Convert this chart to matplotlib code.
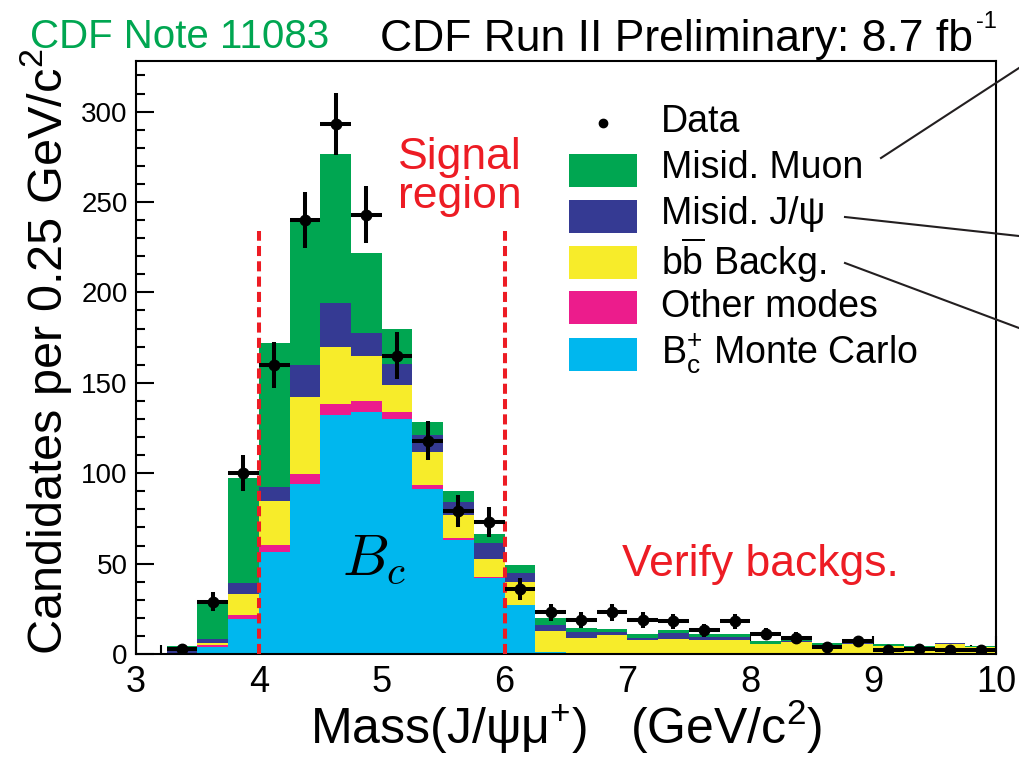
import numpy as np
import matplotlib.pyplot as plt
from matplotlib.lines import Line2D
from matplotlib.patches import Rectangle

plt.rcParams['font.family'] = ['Liberation Sans', 'DejaVu Sans']
plt.rcParams['mathtext.fontset'] = 'custom'
plt.rcParams['mathtext.rm'] = 'Liberation Sans'
plt.rcParams['mathtext.it'] = 'Liberation Sans:italic'
plt.rcParams['mathtext.bf'] = 'Liberation Sans:bold'

# bin centres of Mass(J/psi mu+) in GeV/c^2, 0.25 GeV/c^2 bins
mass = [3.375, 3.625, 3.875, 4.125, 4.375, 4.625, 4.875, 5.125, 5.375,
        5.625, 5.875, 6.125, 6.375, 6.625, 6.875, 7.125, 7.375, 7.625,
        7.875, 8.125, 8.375, 8.625, 8.875, 9.125, 9.375, 9.625, 9.875]
bin_width = 0.25

# observed candidates
data = [3, 29, 100, 160, 240, 293, 243, 165, 118, 79, 73, 36, 23, 19,
        23, 19, 18, 13, 18, 11, 9, 4, 7, 2, 3, 2, 2]

# stacked components, bottom to top
bc_mc = [0.5, 4.0, 19.6, 56.6, 94.0, 132.0, 134.0, 130.0, 91.3, 63.1, 42.0,
         27.0, 1.0, 0.5, 0.3, 0.2, 0.2, 0.1, 0.1, 0, 0, 0, 0, 0, 0, 0, 0]
other_modes = [0, 1.0, 2.0, 3.7, 5.6, 6.2, 6.2, 4.0, 2.2, 1.1, 0.5, 0.2,
               0, 0, 0, 0, 0, 0, 0, 0, 0, 0, 0, 0, 0, 0, 0]
bbbar = [0.3, 1.0, 11.4, 24.4, 42.8, 31.8, 24.8, 15.0, 18.5, 12.8, 9.9,
         12.8, 11.7, 8.2, 10.2, 7.5, 8.1, 7.6, 7.6, 5.3, 6.8, 4.8, 5.8,
         4.4, 3.7, 5.8, 3.7]
misid_jpsi = [2.4, 2.5, 6.0, 7.5, 17.6, 24.4, 12.5, 11.5, 9.2, 7.3, 9.2,
              4.7, 3.3, 3.6, 1.5, 1.3, 3.1, 1.8, 1.8, 0.3, 0.2, 0.2, 0.1,
              0.1, 0.1, 0.1, 0.1]
misid_muon = [1.4, 21.5, 58.5, 79.8, 79.6, 82.1, 44.2, 19.5, 7.0, 5.9, 4.6,
              4.3, 3.7, 2.3, 1.8, 1.9, 1.9, 1.3, 1.3, 1.4, 0.7, 0.9, 0.2,
              0.9, 0.8, 0.3, 0.7]

components = [bc_mc, other_modes, bbbar, misid_jpsi, misid_muon]
comp_colors = ['#00b7ee', '#ec1c8c', '#f7ec2a', '#353a93', '#00a651']
legend_labels = ['Misid. Muon', 'Misid. J/\u03c8',
                 r'b$\overline{\mathrm{b}}$ Backg.',
                 'Other modes', r'B$_\mathrm{c}^\mathrm{+}$ Monte Carlo']
legend_colors = ['#00a651', '#353a93', '#f7ec2a', '#ec1c8c', '#00b7ee']

red = '#ed1c24'
W, H = 1019, 757


def fpos(x, y):
    # pixel position -> figure fraction
    return x / W, 1 - y / H


fig = plt.figure(figsize=(W / 100, H / 100), dpi=100)
ax = fig.add_axes([136 / W, 1 - 654 / H, 860 / W, 593 / H])

# stacked histogram
bottom = np.zeros(len(mass))
for vals, col in zip(components, comp_colors):
    ax.bar(mass, vals, width=bin_width, bottom=bottom, color=col,
           linewidth=0, zorder=2)
    bottom += np.array(vals)

# signal region boundaries
ax.vlines([4, 6], 0, 234, colors=red, linestyles=(0, (2.5, 1.3)),
          linewidth=2.9, zorder=3)

# data points
ax.errorbar(mass, data, xerr=bin_width / 2, yerr=np.sqrt(data), fmt='o',
            color='black', ms=7.5, elinewidth=2.9, capsize=0, zorder=4)

ax.set_xlim(3, 10)
ax.set_ylim(0, 328)
ax.set_xticks([3, 4, 5, 6, 7, 8, 9, 10])
ax.set_xticks(np.arange(3, 10.01, 0.2), minor=True)
ax.set_yticks([0, 50, 100, 150, 200, 250, 300])
ax.set_yticks(np.arange(0, 321, 10), minor=True)
ax.tick_params(which='both', direction='in', top=False, right=False, width=1.5)
ax.tick_params(which='major', length=13)
ax.tick_params(which='minor', length=6.5)
ax.tick_params(axis='x', labelsize=26, pad=8)
ax.tick_params(axis='y', labelsize=20, pad=6)
for sp in ax.spines.values():
    sp.set_linewidth(1.5)

ax.set_xlabel('Mass(J/\u03c8\u03bc$^{+}$)   (GeV/c$^{2}$)', fontsize=36)
ax.xaxis.label.set_va('center')
ax.xaxis.set_label_coords(0.5, -0.123)
ax.set_ylabel('Candidates per 0.25 GeV/c$^{2}$', fontsize=35)
ax.yaxis.label.set_va('center')
ax.yaxis.set_label_coords(-0.105, 0.51)

# annotations inside the frame
ax.text(5.636, 264, 'Signal\nregion', color=red, fontsize=32, ha='center',
        va='center', linespacing=0.95)
ax.text(6.954, 49.3, 'Verify backgs.', color=red, fontsize=32, va='center')
ax.text(4.68, 43.7, '$B_c$', fontsize=42, math_fontfamily='cm', va='baseline')

# header
fig.text(*fpos(30, 37), 'CDF Note 11083', color='#00a651', fontsize=29,
         va='center')
fig.text(*fpos(380, 40), 'CDF Run II Preliminary: 8.7 fb', fontsize=32,
         va='center')
fig.text(*fpos(976, 22), '-1', fontsize=17, va='center')

# legend
fig.add_artist(Line2D([fpos(603, 123)[0]], [fpos(603, 123)[1]], marker='o',
                      color='black', ms=6, transform=fig.transFigure))
fig.text(*fpos(661, 122), 'Data', fontsize=27, va='center')
for i, (lab, col) in enumerate(zip(legend_labels, legend_colors)):
    yc = 170 + 46 * i
    x0, y0 = fpos(569, yc + 16.5)
    fig.add_artist(Rectangle((x0, y0), 68 / W, 33 / H, facecolor=col,
                             edgecolor='none', transform=fig.transFigure))
    fig.text(*fpos(661, 168 + 46.3 * i), lab, fontsize=27, va='center')

# pointer lines running off the right edge
for (xa, ya), (xb, yb) in [((881, 158), (1019, 68)),
                           ((845, 217), (1019, 236)),
                           ((845, 263), (1019, 328))]:
    fig.add_artist(Line2D([xa / W, xb / W], [1 - ya / H, 1 - yb / H],
                          color='#231f20', linewidth=1.5,
                          transform=fig.transFigure))

fig.savefig('out.png', dpi=100)
